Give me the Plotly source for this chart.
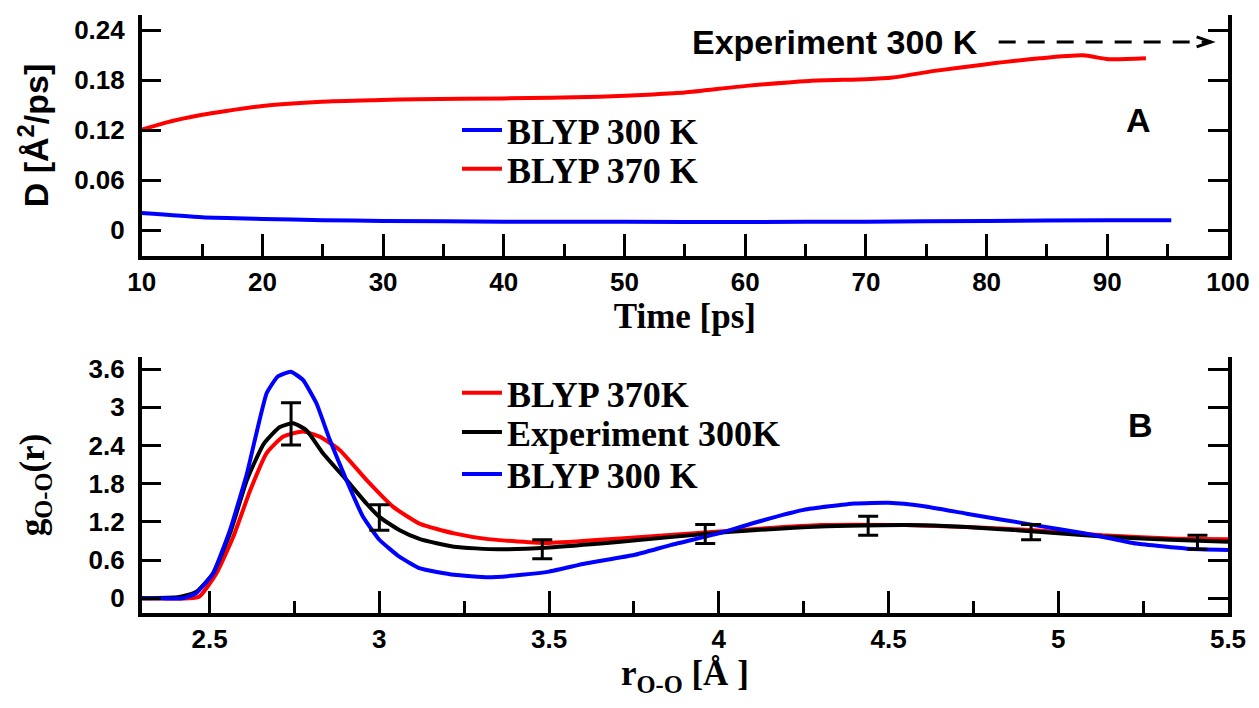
import plotly.graph_objects as go

# ---------------- Panel A data: diffusion coefficient vs time ----------------
time_300 = [10, 15, 20, 25, 30, 40, 50, 60, 70, 80, 90, 95.3]
D_300 = [0.0205, 0.0155, 0.0135, 0.012, 0.011, 0.0102, 0.010, 0.0098, 0.0102, 0.011, 0.012, 0.012]

time_370 = [10, 12, 14.9, 17, 20, 24.9, 29.8, 32.8, 40, 47.9, 52.4, 55, 60.1, 65.3, 70, 72.2, 75.7, 80, 84.4, 88, 90.1, 93.2]
D_370 = [0.1205, 0.129, 0.138, 0.143, 0.149, 0.154, 0.156, 0.157, 0.158, 0.160, 0.1628, 0.165, 0.173, 0.179, 0.181, 0.183, 0.191, 0.199, 0.206, 0.2096, 0.205, 0.206]

exp_D_label = "Experiment 300 K"
exp_D_value = 0.2257
exp_arrow_start = 81.0
exp_arrow_end = 98.6
exp_label_x = 55.4

# ---------------- Panel B data: O-O radial distribution ----------------
r_blyp300 = [2.30, 2.36, 2.42, 2.46, 2.51, 2.56, 2.61, 2.64, 2.668, 2.70, 2.739, 2.775, 2.815, 2.854,
             2.903, 2.952, 3.0, 3.06, 3.12, 3.22, 3.32, 3.42, 3.5, 3.61, 3.75, 3.86, 4.0, 4.1, 4.25,
             4.4, 4.5, 4.6, 4.73, 4.93, 5.08, 5.23, 5.38, 5.5]
g_blyp300 = [0, 0, 0, 0.08, 0.39, 1.07, 1.96, 2.64, 3.22, 3.48, 3.56, 3.43, 3.06, 2.49,
             1.86, 1.28, 0.92, 0.65, 0.47, 0.37, 0.33, 0.37, 0.42, 0.55, 0.68, 0.84, 1.02, 1.18, 1.39,
             1.49, 1.50, 1.45, 1.33, 1.15, 1.02, 0.86, 0.78, 0.76]

r_blyp370 = [2.30, 2.44, 2.47, 2.52, 2.57, 2.62, 2.668, 2.717, 2.775, 2.824, 2.883, 2.962, 3.04,
             3.12, 3.22, 3.32, 3.5, 3.71, 4.0, 4.3, 4.55, 4.73, 4.93, 5.13, 5.33, 5.5]
g_blyp370 = [0, 0, 0.03, 0.39, 0.97, 1.70, 2.28, 2.54, 2.62, 2.54, 2.33, 1.86, 1.44,
             1.17, 1.02, 0.93, 0.87, 0.94, 1.05, 1.15, 1.15, 1.12, 1.07, 0.99, 0.94, 0.93]

r_exp = [2.30, 2.41, 2.46, 2.51, 2.56, 2.61, 2.66, 2.707, 2.746, 2.785, 2.834, 2.903, 2.962, 3.0,
         3.06, 3.12, 3.22, 3.35, 3.5, 3.71, 4.0, 4.3, 4.55, 4.73, 4.93, 5.13, 5.33, 5.5]
g_exp = [0, 0.02, 0.10, 0.39, 1.02, 1.86, 2.43, 2.69, 2.75, 2.64, 2.28, 1.86, 1.49, 1.28,
         1.07, 0.93, 0.81, 0.77, 0.80, 0.89, 1.03, 1.13, 1.15, 1.12, 1.05, 0.97, 0.92, 0.89]

r_err = [2.74, 3.0, 3.48, 3.96, 4.44, 4.92, 5.41]
g_err_center = [2.74, 1.27, 0.77, 1.01, 1.14, 1.04, 0.88]
g_err_size = [0.33, 0.20, 0.15, 0.15, 0.15, 0.12, 0.11]

# ---------------- Axis ticks ----------------
time_tickvals = [10, 20, 30, 40, 50, 60, 70, 80, 90, 100]
time_ticktext = ["10", "20", "30", "40", "50", "60", "70", "80", "90", "100"]
D_tickvals = [0, 0.06, 0.12, 0.18, 0.24]
D_ticktext = ["0", "0.06", "0.12", "0.18", "0.24"]
r_tickvals = [2.5, 3, 3.5, 4, 4.5, 5, 5.5]
r_ticktext = ["2.5", "3", "3.5", "4", "4.5", "5", "5.5"]
g_tickvals = [0, 0.6, 1.2, 1.8, 2.4, 3, 3.6]
g_ticktext = ["0", "0.6", "1.2", "1.8", "2.4", "3", "3.6"]

BLUE = "#0000ff"
RED = "#ff0000"
BLACK = "#000000"
SANS = "Liberation Sans, Arial, sans-serif"
SERIF = "Liberation Serif, Times New Roman, serif"
LW = 4

fig = go.Figure()

# Panel A
fig.add_trace(go.Scatter(x=time_300, y=D_300, mode="lines", name="BLYP 300 K",
                         line=dict(color=BLUE, width=LW, shape="spline", smoothing=0.6),
                         xaxis="x", yaxis="y", legend="legend"))
fig.add_trace(go.Scatter(x=time_370, y=D_370, mode="lines", name="BLYP 370 K",
                         line=dict(color=RED, width=LW, shape="spline", smoothing=0.6),
                         xaxis="x", yaxis="y", legend="legend2"))

# Panel B
fig.add_trace(go.Scatter(x=r_blyp370, y=g_blyp370, mode="lines", name="BLYP 370K",
                         line=dict(color=RED, width=LW, shape="spline", smoothing=0.5),
                         xaxis="x2", yaxis="y2", legend="legend3"))
fig.add_trace(go.Scatter(x=r_exp, y=g_exp, mode="lines", name="Experiment 300K",
                         line=dict(color=BLACK, width=LW, shape="spline", smoothing=0.5),
                         xaxis="x2", yaxis="y2", legend="legend4"))
fig.add_trace(go.Scatter(x=r_blyp300, y=g_blyp300, mode="lines", name="BLYP 300 K",
                         line=dict(color=BLUE, width=LW, shape="spline", smoothing=0.4),
                         xaxis="x2", yaxis="y2", legend="legend5"))
fig.add_trace(go.Scatter(x=r_err, y=g_err_center, mode="markers", showlegend=False,
                         marker=dict(size=1, color="rgba(0,0,0,0)"),
                         error_y=dict(type="data", array=g_err_size, visible=True,
                                      color=BLACK, thickness=3, width=10),
                         xaxis="x2", yaxis="y2"))

axis_common = dict(showline=True, linecolor=BLACK, linewidth=3.5, ticks="inside",
                   tickcolor=BLACK, tickwidth=3, showgrid=False, zeroline=False,
                   automargin=False,
                   tickfont=dict(family=SANS, size=26, color=BLACK, weight="bold"))

LEG_FONT = dict(family=SERIF, size=36, color=BLACK, weight="bold")
LEG_X = 0.3589


def leg(y):
    return dict(x=LEG_X, y=y, xanchor="left", yanchor="top", bgcolor="rgba(0,0,0,0)",
                font=LEG_FONT, itemwidth=40)


# The page body adds an 8px margin, so the figure is sized to fit inside the window.
fig.update_layout(
    width=1251, height=700,
    margin=dict(l=0, r=0, t=0, b=0),
    paper_bgcolor="white", plot_bgcolor="white",
    template=None,
    xaxis=dict(axis_common, domain=[0.10688, 0.97522], anchor="y", range=[10, 100],
               tickmode="array", tickvals=time_tickvals, ticktext=time_ticktext, ticklen=22,
               minor=dict(dtick=5, tick0=0, ticks="inside", ticklen=12, tickwidth=3, tickcolor=BLACK),
               title=dict(text="Time [ps]", standoff=0,
                          font=dict(family=SERIF, size=35, color=BLACK, weight="bold"))),
    yaxis=dict(axis_common, domain=[0.64571, 0.99], anchor="x", range=[-0.031, 0.258],
               tickmode="array", tickvals=D_tickvals, ticktext=D_ticktext, ticklen=20,
               mirror="ticks", ticklabelstandoff=8,
               title=dict(text="D [Å<sup>2</sup>/ps]", standoff=16,
                          font=dict(family=SANS, size=34, color=BLACK, weight="bold"))),
    xaxis2=dict(axis_common, domain=[0.10688, 0.97522], anchor="y2", range=[2.3, 5.5],
                tickmode="array", tickvals=r_tickvals, ticktext=r_ticktext, ticklen=22,
                minor=dict(dtick=0.25, tick0=0, ticks="inside", ticklen=12, tickwidth=3, tickcolor=BLACK),
                title=dict(text="r<sub>O-O</sub> [Å ]", standoff=9,
                           font=dict(family=SERIF, size=35, color=BLACK, weight="bold"))),
    yaxis2=dict(axis_common, domain=[0.13571, 0.50143], anchor="x2", range=[-0.23, 3.79],
                tickmode="array", tickvals=g_tickvals, ticktext=g_ticktext, ticklen=20,
                mirror="ticks", ticklabelstandoff=8,
                title=dict(text="g<sub>O-O</sub>(r)", standoff=34,
                           font=dict(family=SERIF, size=35, color=BLACK, weight="bold"))),
    legend=leg(0.8686),
    legend2=leg(0.8129),
    legend3=leg(0.4931),
    legend4=leg(0.43714),
    legend5=leg(0.37714),
)

fig.add_annotation(x=exp_label_x, y=exp_D_value, xref="x", yref="y", text=exp_D_label,
                   showarrow=False, xanchor="left", yanchor="middle",
                   font=dict(family=SANS, size=34, color=BLACK, weight="bold"))
fig.add_shape(type="line", xref="x", yref="y", x0=exp_arrow_start, x1=exp_arrow_end,
              y0=exp_D_value, y1=exp_D_value, line=dict(color=BLACK, width=3, dash="17px,12px"))
fig.add_shape(type="path", xref="x", yref="y",
              path=f"M {exp_arrow_end - 1.2},{exp_D_value + 0.006} L {exp_arrow_end},{exp_D_value} L {exp_arrow_end - 1.2},{exp_D_value - 0.006}",
              line=dict(color=BLACK, width=3))

fig.add_annotation(x=92.6, y=0.132, xref="x", yref="y", text="A", showarrow=False,
                   font=dict(family=SANS, size=34, color=BLACK, weight="bold"))
fig.add_annotation(x=5.242, y=2.72, xref="x2", yref="y2", text="B", showarrow=False,
                   font=dict(family=SANS, size=34, color=BLACK, weight="bold"))

fig.write_html("out.html")
